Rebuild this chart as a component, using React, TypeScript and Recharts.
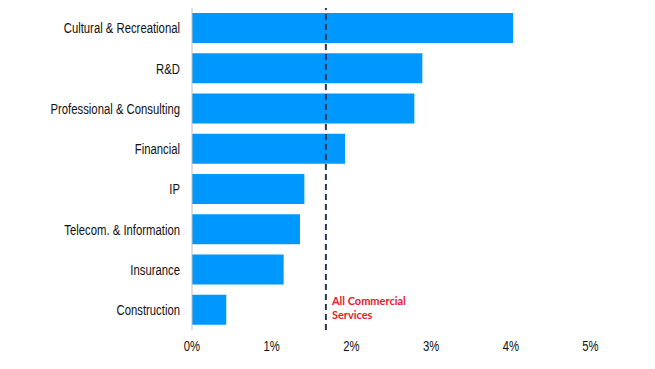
import { Bar, BarChart, ReferenceLine, XAxis, YAxis } from "recharts";

const categories = [
  "Cultural & Recreational",
  "R&D",
  "Professional & Consulting",
  "Financial",
  "IP",
  "Telecom. & Information",
  "Insurance",
  "Construction",
];

// growth, percent
const growth = [4.03, 2.89, 2.79, 1.92, 1.41, 1.355, 1.15, 0.43];

const allCommercialServices = 1.68;
const xTicks = [0, 1, 2, 3, 4, 5];

const data = categories.map((name, i) => ({ name, value: growth[i] }));

// no Arial Narrow here, so squeeze Liberation Sans a bit
const narrowFont = '"Liberation Sans", Arial, sans-serif';

function NarrowTick({
  x,
  y,
  payload,
  anchor,
  dy,
  format,
}: {
  x?: number;
  y?: number;
  payload?: { value: string | number };
  anchor: "end" | "middle";
  dy: string;
  format?: (v: string | number) => string;
}) {
  if (x === undefined || y === undefined || !payload) return null;
  const label = format ? format(payload.value) : String(payload.value);
  return (
    <g transform={`translate(${x},${y}) scale(0.78,1)`}>
      <text x={0} y={0} dy={dy} textAnchor={anchor} fill="#111" fontSize={14.5} fontFamily={narrowFont}>
        {label}
      </text>
    </g>
  );
}

function ServicesLabel({ viewBox }: { viewBox?: { x: number; y: number; height: number } }) {
  if (!viewBox) return null;
  const x = viewBox.x + 6;
  const bottom = viewBox.y + viewBox.height;
  return (
    <g>
      <text x={x} y={bottom - 25} fill="#e8192c" fontFamily="Lato, sans-serif" fontWeight={700} fontSize={11}>
        All Commercial
      </text>
      <text x={x} y={bottom - 11} fill="#e8192c" fontFamily="Lato, sans-serif" fontWeight={700} fontSize={11}>
        Services
      </text>
    </g>
  );
}

export default function App() {
  return (
    <div style={{ position: "absolute", left: 0, top: 0, background: "#fff" }}>
      <BarChart
        width={655}
        height={369}
        data={data}
        layout="vertical"
        margin={{ top: 8, right: 64.5, bottom: 9, left: 12 }}
      >
        <XAxis
          type="number"
          domain={[0, 5]}
          ticks={xTicks}
          axisLine={false}
          tickLine={false}
          tickSize={0}
          tickMargin={11}
          height={30}
          tick={<NarrowTick anchor="middle" dy="0.71em" format={(v) => `${v}%`} />}
        />
        <YAxis
          type="category"
          dataKey="name"
          width={180}
          axisLine={{ stroke: "#c0c0c0", strokeWidth: 1 }}
          tickLine={false}
          tickSize={0}
          tickMargin={12}
          interval={0}
          tick={<NarrowTick anchor="end" dy="0.355em" />}
        />
        <Bar dataKey="value" fill="#0098fe" barSize={30} isAnimationActive={false} />
        <ReferenceLine
          x={allCommercialServices}
          stroke="#2a3754"
          strokeWidth={2}
          strokeDasharray="6 4"
          label={<ServicesLabel />}
        />
      </BarChart>
    </div>
  );
}
